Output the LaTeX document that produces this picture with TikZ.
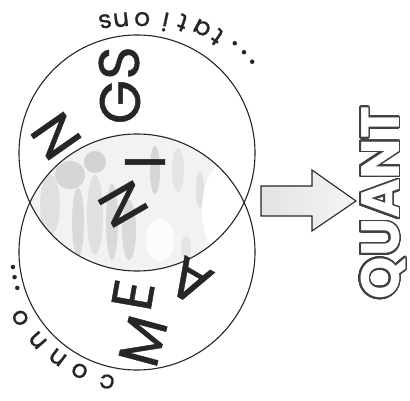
\documentclass[tikz,border=0pt]{standalone}
\usepackage{fontspec}
\setmainfont{Poppins}
\newfontfamily\heavyf[FakeBold=0.8]{Poppins}
\newfontfamily\arcf[FakeBold=0.9]{Poppins}
\usepackage[copies]{contour}
\contourlength{1.7pt}
\contournumber{32}
\begin{document}
\begin{tikzpicture}[x=1pt,y=-1pt,
  ring/.style={line width=1.1pt, draw=black!85},
  bigl/.style={font=\heavyf\fontsize{57}{57}\selectfont, text=black!85, inner sep=0pt, anchor=center},
  arcl/.style={font=\arcf\fontsize{25}{25}\selectfont, text=black!85, inner sep=0pt, anchor=center},
  dotc/.style={fill=black!85, circle, inner sep=0pt, minimum size=4.5pt},
  blob/.style={fill=gray!65, opacity=0.45}
]
\useasboundingbox (0,0) rectangle (410,401);
\fill[white] (0,0) rectangle (410,401);

% shaded lens
\begin{scope}
  \clip (137,153) circle[radius=118];
  \clip (137,252) circle[radius=118];
  \fill[gray!10] (0,0) rectangle (410,401);
  \fill[blob] (95,162) circle[radius=11];
  \fill[blob,opacity=0.4] (70,175) ellipse[x radius=15, y radius=14];
  \fill[blob,opacity=0.35] (78,222) ellipse[x radius=6, y radius=34];
  \fill[blob,opacity=0.35] (112,222) ellipse[x radius=6, y radius=38];
  \fill[blob,opacity=0.35] (129,230) ellipse[x radius=7, y radius=30];
  \fill[blob,opacity=0.4] (155,170) ellipse[x radius=5, y radius=24];
  \fill[blob,opacity=0.25] (50,205) ellipse[x radius=10, y radius=30];
  \fill[blob,opacity=0.25] (95,215) ellipse[x radius=8, y radius=40];
  \fill[blob,opacity=0.2] (178,170) ellipse[x radius=6, y radius=22];
  \fill[blob,opacity=0.2] (186,248) ellipse[x radius=5, y radius=12];
  \fill[blob,opacity=0.25] (200,190) ellipse[x radius=4, y radius=18];
  \fill[white] (222,210) ellipse[x radius=20, y radius=45];
  \fill[white,opacity=0.7] (160,240) ellipse[x radius=14, y radius=22];
\end{scope}

\draw[ring] (137,153) circle[radius=118];
\draw[ring] (137,252) circle[radius=118];

% MEANINGS letters
\node[bigl, rotate=75]  (lM)  at (143,341) {M};
\node[bigl, rotate=80]  (lE)  at (133,295) {E};
\node[bigl, rotate=150] (lA)  at (190,281) {A};
\node[bigl, rotate=120] (lN1) at (123,204) {N};
\node[bigl, rotate=90]  (lI)  at (145,162) {I};
\node[bigl, rotate=125] (lN2) at (56,136)  {N};
\node[bigl, rotate=90]  (lG)  at (120,102) {G};
\node[bigl, rotate=90]  (lS)  at (119,63)  {S};

% ...tations (upside down along the top)
\foreach \c/\a/\r [count=\i] in {t/55.4/141, a/62.5/141, t/70.8/138, i/77.8/134, o/87.8/134, n/96.8/134, s/103.6/135.6}
  \node[arcl, rotate=\a+90] (top\i) at ({137+\r*cos(\a)},{153-\r*sin(\a)}) {\c};
\foreach \a [count=\i] in {48.3,43.3,38.4}
  \node[dotc] (tdot\i) at ({137+147*cos(\a)},{153-147*sin(\a)}) {};

% conno... (along the bottom left)
\foreach \c/\a/\r [count=\i] in {c/257/133, o/244.2/132, n/233/132, n/221.6/133, o/209.4/134}
  \node[arcl, rotate=\a-90] (bot\i) at ({137+\r*cos(\a)},{252-\r*sin(\a)}) {\c};
\foreach \a [count=\i] in {196.7,191.6,186.9}
  \node[dotc] (bdot\i) at ({137+125*cos(\a)},{252-125*sin(\a)}) {};

% block arrow
\draw[line width=1.1pt, draw=black!85, left color=gray!22, middle color=gray!42, right color=gray!8]
  (261,186) -- (312,186) -- (312,170) -- (356,201) -- (312,231) -- (312,216) -- (261,216) -- cycle;

% QUANT
\node[rotate=90, inner sep=0pt, font=\fontsize{54}{54}\selectfont\bfseries] (quant) at (384,203)
  {\contour{black!75}{\textcolor{white}{QUANT}}};
\end{tikzpicture}
\end{document}
